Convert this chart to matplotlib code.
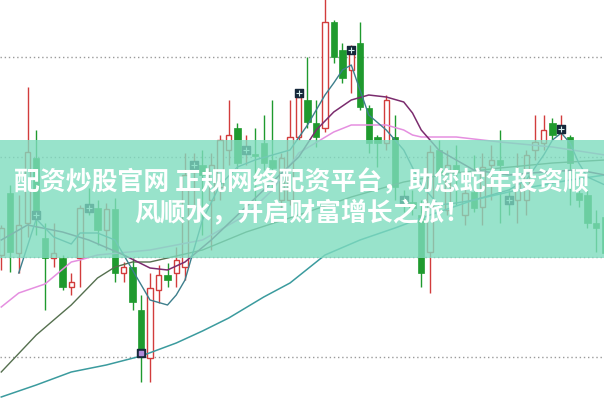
"""Candlestick chart with moving averages and a promo banner across the middle."""

import matplotlib.pyplot as plt
import numpy as np
from matplotlib.patches import Rectangle

# candle values, one per trading day
opens = [20.2, 26.4, 20.4, 23.4, 29.9, 21.9, 19.9, 19.9, 17.0, 19.9,
         25.0, 24.9, 22.7, 24.8, 18.4, 19.0, 14.7, 9.9, 16.7, 18.2,
         18.4, 19.0, 28.5, 29.2, 25.7, 27.0, 30.7, 32.9, 30.4, 30.3,
         31.4, 29.7, 25.7, 25.7, 32.0, 35.7, 33.4, 32.9, 43.5, 40.7,
         38.7, 41.4, 34.9, 32.0, 31.4, 32.0, 25.8, 25.5, 24.2, 20.5,
         30.7, 24.7, 29.2, 24.2, 26.5, 25.0, 29.2, 29.7, 25.9, 25.7,
         25.7, 30.7, 31.4, 33.4, 32.4, 32.0, 26.4, 26.2, 23.4, 24.0]
closes = [22.9, 20.5, 23.2, 30.5, 24.0, 19.9, 20.4, 17.0, 17.5, 24.9,
          24.6, 22.7, 24.8, 18.4, 19.0, 15.5, 10.4, 16.9, 18.2, 17.7,
          19.7, 28.2, 29.5, 28.2, 29.2, 31.7, 32.2, 29.4, 30.9, 30.1,
          29.4, 28.9, 29.9, 32.0, 36.0, 33.5, 32.0, 43.5, 40.0, 37.9,
          40.4, 35.0, 31.4, 31.4, 35.7, 27.0, 25.4, 24.9, 18.4, 30.5,
          28.4, 29.2, 28.5, 26.4, 24.9, 29.0, 29.7, 29.2, 25.5, 27.4,
          30.2, 31.5, 32.7, 32.2, 33.0, 29.4, 25.7, 23.4, 22.9, 20.4]
highs = [23.2, 27.2, 26.2, 37.0, 32.7, 23.4, 23.4, 20.2, 18.4, 25.2,
         26.9, 25.7, 25.4, 25.9, 19.5, 19.9, 16.2, 18.4, 19.2, 19.4,
         21.0, 30.4, 30.4, 30.7, 30.4, 32.2, 35.7, 33.4, 32.2, 32.9,
         34.2, 35.7, 30.4, 35.7, 36.7, 40.0, 35.7, 46.2, 43.7, 41.4,
         41.2, 43.5, 35.2, 32.2, 36.2, 34.2, 26.7, 26.7, 25.7, 31.2,
         31.7, 30.7, 31.2, 27.2, 30.2, 30.4, 31.2, 32.7, 26.7, 30.4,
         30.7, 34.2, 34.2, 33.9, 34.2, 32.2, 27.2, 26.7, 24.7, 24.7]
lows = [18.7, 18.5, 18.4, 22.0, 22.2, 14.7, 19.0, 16.7, 16.2, 17.0,
        24.2, 21.2, 20.7, 17.5, 17.5, 14.7, 7.5, 7.5, 15.4, 17.0,
        17.0, 17.7, 25.2, 22.2, 20.7, 25.7, 29.2, 28.7, 29.2, 25.0,
        28.7, 26.7, 24.7, 25.2, 31.7, 32.9, 31.0, 32.5, 39.4, 37.4,
        36.4, 34.7, 30.4, 29.0, 30.7, 25.7, 24.5, 24.2, 17.0, 16.4,
        27.7, 24.2, 25.2, 23.2, 24.5, 23.2, 25.7, 23.4, 24.2, 23.4,
        24.2, 29.7, 30.7, 31.7, 31.7, 25.2, 25.0, 22.9, 20.5, 20.0]

# moving average lines, read at selected days
ma5_days = [2, 4, 6, 8, 9, 11, 13, 15, 17, 19, 20, 21, 23, 25, 27, 29, 31,
            33, 35, 37, 38, 39, 40, 42, 44, 46, 48, 50, 52, 54, 56, 58, 60,
            62, 63, 64, 65, 66, 67, 69]
ma5_vals = [18.4, 23.8, 22.0, 21.3, 22.4, 22.4, 21.7, 18.7, 15.7, 15.2,
            16.2, 17.7, 23.7, 27.2, 29.0, 29.7, 30.2, 30.7, 33.2, 36.2,
            37.4, 38.7, 39.2, 34.2, 32.7, 30.7, 27.2, 25.2, 25.4, 25.7,
            26.2, 26.7, 27.7, 30.2, 31.7, 32.4, 31.4, 29.4, 28.0, 27.2]

ma10_days = [0, 3, 7, 10, 14, 17, 19, 21, 24, 27, 30, 34, 36, 38, 40, 42,
             44, 46, 47, 48, 50, 54, 58, 62, 66, 69]
ma10_vals = [21.7, 23.2, 22.5, 21.7, 20.2, 18.9, 18.7, 19.5, 21.7, 24.2,
             26.7, 30.0, 32.7, 34.5, 35.7, 36.2, 36.0, 35.5, 34.4, 32.7,
             30.7, 28.7, 28.2, 28.5, 28.7, 28.2]

ma20_days = [0, 2, 5, 8, 9, 11, 17, 23, 28, 31, 34, 38, 40, 42, 44, 46, 47,
             48, 52, 57, 63, 69]
ma20_vals = [15.0, 16.4, 17.3, 19.5, 19.7, 20.2, 20.7, 21.7, 24.2, 26.7,
             30.4, 32.5, 33.2, 33.2, 33.2, 32.7, 32.2, 32.0, 32.0, 31.5,
             31.0, 30.2]

ma30_days = [0, 4, 8, 11, 13, 15, 17, 23, 28, 34, 40, 46, 51, 57, 63, 69]
ma30_vals = [8.5, 12.2, 15.2, 17.9, 19.0, 19.5, 19.5, 20.7, 22.5, 24.2,
             26.0, 27.5, 28.3, 28.9, 29.4, 29.7]

ma60_days = [0, 4, 8, 12, 16, 20, 23, 26, 30, 33, 37, 41, 45, 49, 54, 60,
             65, 69]
ma60_vals = [6.0, 7.2, 8.5, 9.2, 10.1, 11.4, 12.6, 13.9, 16.0, 17.4, 20.2,
             21.7, 22.9, 24.2, 25.7, 26.9, 27.7, 28.2]

# signal markers: (day, price)
marker_days = [4, 10, 22, 28, 34, 40, 46, 58, 64]
marker_vals = [24.2, 24.9, 29.2, 30.7, 36.4, 40.7, 25.7, 25.7, 32.8]
low_marker_days = [16]
low_marker_vals = [10.4]

grid_levels = [10, 20, 30, 40]

banner_lines = ["配资炒股官网 正规网络配资平台，助您蛇年投资顺",
                "风顺水，开启财富增长之旅！"]

RED = "#d23c3c"
GREEN = "#1f9a2e"


def main() -> None:
    fig = plt.figure(figsize=(6.04, 4.01), dpi=100)
    ax = fig.add_axes([0, 0, 1, 1])
    ax.set_axis_off()
    ax.set_xlim(-0.143, 68.886)
    ax.set_ylim(5.6, 45.7)

    for level in grid_levels:
        ax.axhline(level, color="#9a9a9a", lw=1.0, ls=(0, (1, 2)), zorder=1)

    o = np.array(opens)
    c = np.array(closes)
    h = np.array(highs)
    lo = np.array(lows)
    days = np.arange(len(o))
    up = c >= o

    ax.vlines(days[up], lo[up], h[up], color=RED, lw=1.0, zorder=2)
    ax.vlines(days[~up], lo[~up], h[~up], color=GREEN, lw=1.0, zorder=2)
    ax.bar(days[up], (c - o)[up], bottom=o[up], width=0.62,
           facecolor="white", edgecolor=RED, lw=1.0, zorder=3)
    ax.bar(days[~up], (o - c)[~up], bottom=c[~up], width=0.7,
           facecolor=GREEN, edgecolor=GREEN, lw=0.5, zorder=3)

    ax.plot(ma60_days, ma60_vals, color="#3b9b9e", lw=1.1, zorder=4)
    ax.plot(ma30_days, ma30_vals, color="#55704f", lw=1.0, zorder=4)
    ax.plot(ma20_days, ma20_vals, color="#e58fe0", lw=1.1, zorder=4)
    ax.plot(ma10_days, ma10_vals, color="#7b2c6e", lw=1.1, zorder=4)
    ax.plot(ma5_days, ma5_vals, color="#3d7f8c", lw=1.0, zorder=4)

    ax.scatter(marker_days, marker_vals, marker="s", s=30, color="#16283a",
               zorder=5)
    ax.scatter(marker_days, marker_vals, marker="+", s=14, color="#d8f0f0",
               lw=0.8, zorder=6)
    ax.scatter(low_marker_days, low_marker_vals, marker="s", s=30,
               color="#16283a", zorder=5)
    ax.scatter(low_marker_days, low_marker_vals, marker="s", s=10,
               color="#b08ad8", zorder=6)

    # banner over the middle of the chart
    fig.patches.append(Rectangle((0, 0.357), 1, 0.294, transform=fig.transFigure,
                                 facecolor="#7fdcbf", alpha=0.8, zorder=10,
                                 edgecolor="none"))
    fig.text(0.5, 0.545, banner_lines[0], ha="center", va="center",
             color="white", fontsize=18.6, fontweight="bold",
             family=["Noto Sans CJK SC", "DejaVu Sans"], zorder=11)
    fig.text(0.5, 0.468, banner_lines[1], ha="center", va="center",
             color="white", fontsize=18.6, fontweight="bold",
             family=["Noto Sans CJK SC", "DejaVu Sans"], zorder=11)

    fig.savefig("out.png", dpi=100)
    plt.close(fig)


if __name__ == "__main__":
    main()
